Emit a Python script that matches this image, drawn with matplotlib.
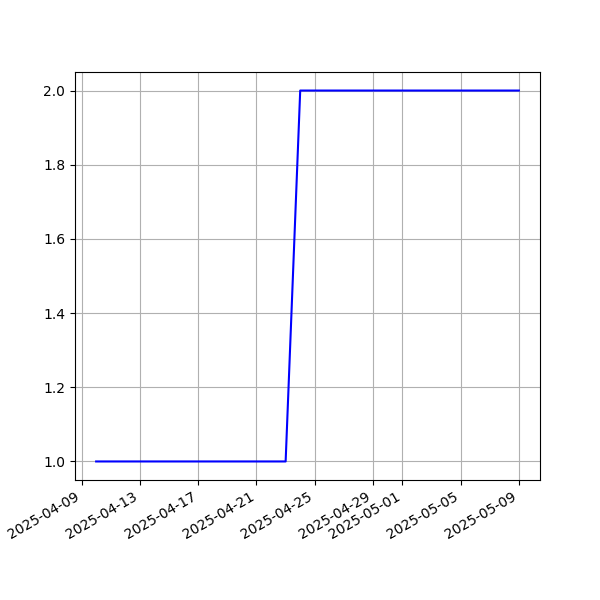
import pandas as pd
import matplotlib
matplotlib.use("Agg")
import matplotlib.pyplot as plt

# daily values
dates = pd.date_range("2025-04-10", "2025-05-09", freq="D")
values = [1, 1, 1, 1, 1, 1, 1, 1, 1, 1, 1, 1, 1, 1,
          2, 2, 2, 2, 2, 2, 2, 2, 2, 2, 2, 2, 2, 2, 2, 2]

fig = plt.figure(figsize=(6, 6), dpi=100)
ax = fig.add_subplot()
ax.plot(dates, values, color="blue")
ax.grid(True)
fig.autofmt_xdate()
fig.savefig("out.png", dpi=100)
